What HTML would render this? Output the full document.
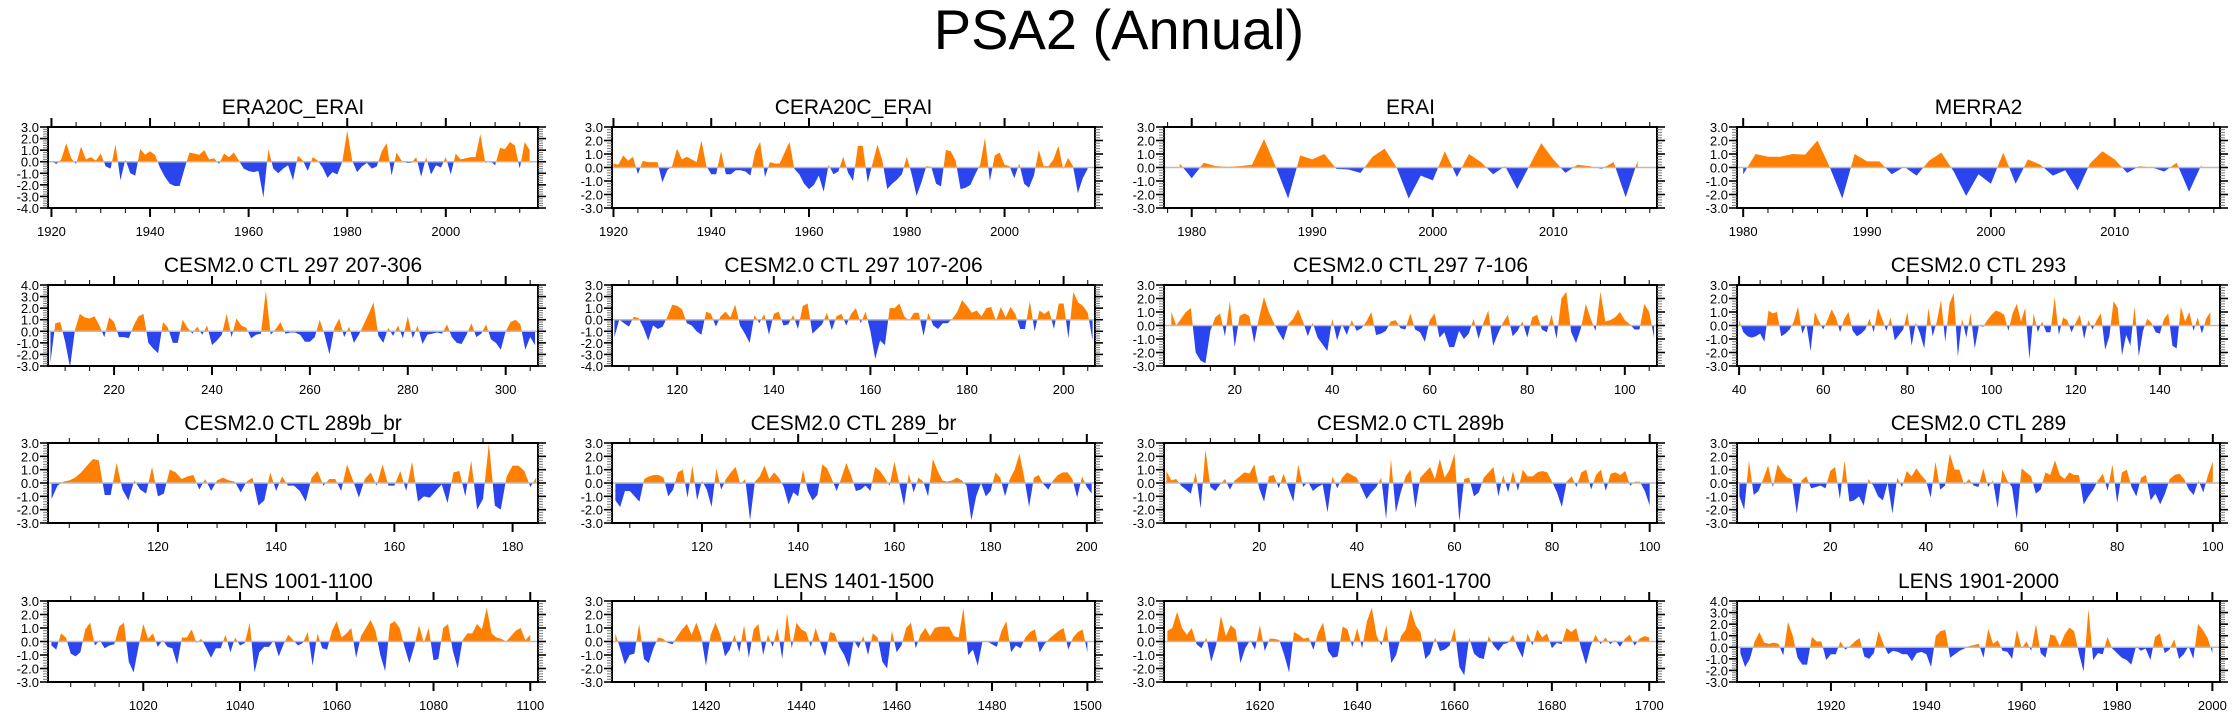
<!DOCTYPE html>
<html><head><meta charset="utf-8"><style>
html,body{margin:0;padding:0;background:#fff;}
svg text{font-family:"Liberation Sans",Helvetica,Arial,sans-serif;fill:#000;}
</style></head><body>
<svg id="fig" xmlns="http://www.w3.org/2000/svg" width="2238" height="719" viewBox="0 0 2238 719">
<rect x="0" y="0" width="2238" height="719" fill="#fff"/>
<text x="1119" y="49" font-size="56" text-anchor="middle">PSA2 (Annual)</text>
</svg>
<script>
// ---------- data ----------
const titles = ["ERA20C_ERAI","CERA20C_ERAI","ERAI","MERRA2",
"CESM2.0 CTL 297 207-306","CESM2.0 CTL 297 107-206","CESM2.0 CTL 297 7-106","CESM2.0 CTL 293",
"CESM2.0 CTL 289b_br","CESM2.0 CTL 289_br","CESM2.0 CTL 289b","CESM2.0 CTL 289",
"LENS 1001-1100","LENS 1401-1500","LENS 1601-1700","LENS 1901-2000"];
const p1Start = 1920;
const p1 = [0.05,-0.2,0.2,1.6,0.3,-0.2,1.3,0.2,0.4,0.1,0.7,-0.4,-0.6,1.5,-1.6,0.2,-1.0,-1.2,1.1,0.6,0.9,0.6,-0.5,-1.3,-1.9,-2.1,-2.1,-0.6,0.8,0.7,0.6,1.0,0.2,0.3,-0.2,0.7,0.4,0.8,0.1,-0.6,-0.8,-0.9,-0.8,-3.1,1.1,-0.6,-1.0,-0.6,-0.3,-1.6,0.5,0.1,-0.8,0.4,0.1,-0.5,-1.4,-0.9,-1.1,0.0,2.7,0.1,-0.9,-0.4,-0.1,-0.6,-0.4,0.9,1.6,-1.2,0.8,0.1,-0.1,-0.1,0.4,-1.3,0.4,-1.1,-0.3,-0.5,0.4,-1.1,0.7,0.2,0.3,0.4,0.4,2.4,-0.1,0.05,-0.3,1.2,1.1,1.7,1.4,-0.6,1.7,1.0];
const p2Start = 1920;
const p2 = [0.3,0.2,0.9,0.5,0.8,-0.5,0.5,0.4,0.4,0.4,-1.1,-0.2,0.1,1.4,0.6,0.8,0.6,0.4,2.0,0.1,-0.5,-0.5,1.2,-0.5,-0.5,-0.2,-0.2,-0.3,-0.6,1.2,1.9,-0.7,0.4,0.3,0.3,1.1,1.9,-0.1,-0.5,-1.2,-1.6,-1.3,-0.6,-1.8,0.2,-0.5,-0.3,0.8,-0.4,-1.0,1.6,1.6,-1.1,0.3,1.7,0.5,-1.6,-1.2,-0.9,-0.5,0.8,-0.5,-2.1,-1.1,0.1,0.05,-1.2,-1.4,1.3,1.2,0.5,-1.6,-1.5,-1.3,-0.5,0.2,2.2,-1.0,0.9,1.1,0.2,0.1,-0.8,0.3,-1.2,-1.5,-0.6,1.3,0.1,0.1,0.6,1.6,-0.1,0.7,0.1,-1.9,-0.8,-0.1];
const p3Start = 1979;
const p3 = [0.3,-0.8,0.35,0.1,0.05,0.1,0.2,2.1,0.0,-2.3,0.9,0.6,1.0,-0.1,-0.15,-0.4,0.8,1.4,0.0,-2.3,-0.6,-0.95,1.2,-0.7,1.0,0.4,-0.5,0.1,-1.6,0.1,1.8,0.6,-0.4,0.2,0.1,-0.1,0.4,-2.2,0.5];
const p4Start = 1980;
const p4 = [-0.5,1.0,0.8,0.8,1.0,0.95,2.0,0.0,-2.3,1.0,0.45,0.45,-0.5,0.05,-0.6,0.5,1.1,-0.3,-2.1,-0.5,-1.2,1.1,-1.2,0.6,0.2,-0.6,-0.2,-1.7,0.3,1.2,0.6,-0.4,0.1,0.0,-0.3,0.35,-1.8,0.2];
const p5Start = 207;
const p5 = [-2.7,0.7,0.8,-0.9,-3.1,0.1,1.5,1.2,1.1,1.3,0.5,-0.5,1.2,0.8,-0.5,-0.5,-0.6,0.5,1.3,1.5,-1.0,-1.5,-1.9,0.8,0.3,-1.0,-1.0,1.0,0.3,-0.2,0.4,-0.3,0.5,-1.2,-0.8,-0.3,1.5,-0.5,1.1,0.5,0.3,-0.6,-0.3,-0.2,3.5,-0.3,0.2,0.8,-0.2,-0.1,-0.1,-0.3,-0.9,-0.9,-0.5,1.0,-0.3,-2.0,0.3,1.1,-0.5,0.4,-1.0,-0.3,0.6,1.5,2.5,-0.4,-1.0,0.3,-0.4,0.5,-0.6,1.3,-0.6,0.5,-1.1,-0.3,-0.2,-0.1,-0.2,0.6,-0.5,-1.0,-1.1,-0.3,0.7,-0.5,-0.2,0.6,-0.7,-1.0,-1.6,0.0,0.8,1.0,0.6,-1.6,-0.5,-1.2];
const p6Start = 107;
const p6 = [-1.5,0.0,-0.3,-0.6,0.25,0.15,-0.7,-1.8,-0.5,-0.8,-0.6,0.3,1.3,1.2,0.9,-0.3,-0.5,-1.0,-1.3,0.7,0.5,-0.6,0.3,0.7,0.2,1.3,-0.5,-1.2,-2.0,0.4,-0.3,0.5,-1.3,0.5,0.7,-0.5,-0.4,0.4,-0.8,1.2,1.4,-1.2,-0.8,-0.4,0.6,-0.9,0.3,0.5,-0.5,0.5,1.0,-0.3,0.7,-1.0,-3.4,-1.8,-2.2,1.0,1.0,1.4,0.3,-0.1,0.6,0.6,-1.4,0.6,-0.5,-0.8,-0.3,-0.3,0.1,0.7,1.7,1.2,0.6,0.8,0.3,1.0,1.1,-0.1,1.1,0.2,1.1,0.5,-0.8,-0.8,1.6,-1.0,0.8,0.5,0.8,-0.8,1.4,1.4,-1.6,2.4,1.5,1.2,0.6,-1.8];
const p7Start = 7;
const p7 = [1.0,0.0,0.5,1.0,1.3,-2.0,-2.6,-2.8,-0.4,0.6,0.9,-0.8,1.8,-1.6,0.7,0.9,0.7,-1.3,0.6,2.1,1.0,0.2,-0.5,-1.1,0.1,0.5,1.2,0.3,-0.8,0.2,-0.9,-1.4,-1.9,0.5,-1.1,0.1,-0.7,0.4,-0.4,-0.2,0.3,1.0,-0.7,-0.6,-0.4,0.3,0.4,-0.2,-0.3,0.9,-0.3,-0.5,-1.2,0.4,0.9,-0.9,-0.5,-1.6,-1.6,-0.4,-1.0,-0.6,0.5,-1.0,0.2,1.1,-1.5,-0.6,0.2,0.8,-0.8,-0.4,0.3,-0.9,0.6,0.8,-0.3,-0.5,0.8,-1.0,2.0,2.5,-0.5,-1.3,-0.2,1.6,0.5,-0.4,2.5,0.3,0.4,0.6,1.0,0.4,0.1,-0.3,-0.3,1.6,1.0,-0.9];
const p8Start = 40;
const p8 = [0.4,-0.5,-0.8,-0.9,-0.8,-0.6,-1.2,1.1,0.9,1.0,-0.8,-0.6,-0.3,0.3,1.4,-0.6,0.1,-1.9,1.0,0.3,-0.3,0.4,1.2,0.6,-0.5,0.5,1.0,-0.4,-0.8,-0.6,-0.3,0.5,-0.5,1.3,0.5,-0.4,0.6,-1.1,-0.7,-0.3,1.0,-1.5,0.2,-0.6,-1.7,1.3,-0.8,0.3,1.9,-1.2,1.6,2.4,-2.3,0.5,-0.9,0.9,-1.7,0.0,-0.1,0.4,0.8,1.1,1.0,0.8,-0.4,0.9,1.6,0.3,1.3,-2.5,0.9,-0.5,0.3,-0.5,-0.5,2.1,-0.7,0.6,0.4,-0.5,0.2,0.8,-1.0,0.4,-0.3,0.4,0.9,-1.8,-0.8,1.8,1.3,-2.2,-0.7,-1.5,1.4,-2.3,-0.4,0.5,0.2,-0.5,-0.6,0.5,0.9,-1.5,-1.7,1.4,0.3,1.0,-0.4,0.6,-0.6,0.5,1.0];
const p9Start = 102;
const p9 = [-1.2,-0.2,0.1,0.2,0.4,0.8,1.3,1.8,1.7,-0.9,-0.9,1.5,-0.5,-1.3,0.2,-0.5,-0.8,1.2,-1.0,-0.8,1.0,0.8,0.3,0.5,0.6,-0.5,0.3,-0.6,0.2,0.4,0.2,0.1,-0.7,0.1,0.4,-1.7,-1.3,0.8,-0.6,0.5,-0.2,-0.2,-0.6,-1.4,0.4,0.9,-0.2,0.3,0.3,-0.6,1.4,0.2,-1.1,0.3,0.8,-0.2,1.4,-0.2,-0.2,0.9,-0.6,1.6,-1.4,-1.0,-1.1,-0.6,-0.1,-1.5,0.8,0.9,-1.0,1.7,-2.0,-1.2,3.0,-1.7,-2.0,0.5,1.3,1.3,0.9,-0.3,0.4];
const p10Start = 102;
const p10 = [-1.3,-1.8,-0.6,-0.6,-1.0,-1.4,0.3,0.5,0.6,0.6,0.4,-1.0,-0.5,0.8,1.0,-1.1,1.3,-1.3,0.2,-0.5,-1.8,1.1,-0.5,0.3,0.8,1.2,-0.1,0.3,-2.8,0.1,0.5,1.3,0.3,0.8,0.4,-0.3,-1.6,-0.7,-1.0,1.0,-0.6,-1.3,-0.9,1.4,1.1,0.3,-0.6,0.4,1.5,0.6,-0.6,-0.5,-0.2,-0.6,1.2,0.9,0.4,-0.2,1.6,0.0,-1.7,0.7,-0.7,0.4,0.1,-1.0,1.8,0.9,0.2,0.1,0.2,0.4,0.2,-0.2,-2.8,-1.0,0.0,-1.0,-0.6,0.8,0.4,-1.0,0.3,1.0,2.2,0.4,-1.8,0.4,0.6,-0.1,-0.5,0.2,0.6,0.8,0.8,0.3,-1.1,0.5,-0.3,-0.8];
const p11Start = 1;
const p11 = [0.9,0.2,0.3,-0.2,-0.5,-0.8,0.8,-1.9,2.5,-0.3,-0.6,-0.1,0.3,-0.5,0.2,0.5,0.8,0.7,1.4,-0.4,-1.4,0.5,0.6,-0.4,0.7,-0.4,-1.4,1.4,-0.3,0.1,-0.6,-0.3,-0.1,-2.2,0.5,-0.4,0.4,0.8,0.6,0.4,-0.4,-1.2,-0.7,-0.3,0.4,-2.7,1.8,-2.2,-0.7,0.5,1.0,-1.9,0.4,0.8,1.2,0.3,1.8,0.4,1.0,2.2,-2.9,0.3,0.4,-1.0,-0.7,0.4,0.8,1.2,-1.0,0.6,-0.7,0.9,-0.6,1.0,0.5,0.5,0.8,0.9,0.8,0.1,-0.7,-1.8,0.1,0.5,-0.3,0.8,1.0,-0.5,0.6,1.0,-0.6,0.7,0.8,0.6,0.9,-0.2,0.1,0.1,-0.6,-1.7];
const p12Start = 1;
const p12 = [-1.0,-2.0,1.7,-0.9,-0.6,0.3,1.3,-0.3,1.4,0.8,0.4,0.3,-2.3,0.2,0.5,-0.4,-0.3,-0.2,-0.4,0.9,1.2,-1.2,1.7,-1.4,-1.3,-1.0,-1.7,0.3,-0.2,-1.0,-1.3,0.0,-2.3,0.4,-0.3,0.9,0.5,1.1,0.6,0.2,-1.1,1.6,-0.5,-0.2,2.2,1.0,1.0,-0.1,0.3,-0.2,-0.3,1.1,-0.3,0.2,-1.9,1.0,0.2,-0.3,-2.7,1.1,0.8,0.5,-0.8,-0.5,0.8,0.6,1.7,0.6,0.3,0.8,0.6,0.6,-1.6,-1.0,-0.5,0.2,0.7,-0.6,1.4,-1.5,0.8,1.0,-0.3,-1.0,0.4,0.6,-1.3,-0.8,-1.6,-0.8,0.3,0.6,0.7,0.3,-0.5,-0.9,0.2,-0.7,0.6,1.6];
const p13Start = 1001;
const p13 = [-0.3,-0.6,0.6,0.3,-0.9,-1.1,-0.8,0.9,1.4,-0.3,0.1,-0.5,-0.3,-0.2,1.1,1.4,-1.5,-2.3,-0.4,1.3,0.2,0.6,-0.4,0.1,-0.4,-0.5,-1.7,0.3,0.3,0.9,-0.1,0.2,-0.5,-1.2,-0.5,-0.5,0.5,-0.8,0.3,-0.3,-0.1,1.4,-2.3,-0.8,-0.4,-0.4,0.1,-1.1,-0.2,0.5,0.1,-0.3,-0.1,0.7,-1.8,0.6,-0.5,-0.6,0.8,1.5,0.3,0.6,1.0,-1.2,0.4,1.0,1.6,0.8,-1.0,-2.2,1.3,1.5,1.0,-0.4,-1.6,-0.4,1.2,-0.1,1.0,-1.4,-1.3,1.0,1.3,-0.7,-2.0,0.1,0.6,0.6,1.3,0.9,2.5,0.6,0.3,0.2,0.0,0.4,0.8,1.0,0.1,0.5];
const p14Start = 1401;
const p14 = [0.6,-0.5,-1.7,-1.0,-0.9,1.3,-1.3,-1.6,-0.5,0.3,0.2,-0.1,-0.2,0.4,0.9,1.3,0.5,1.4,0.4,-1.8,0.5,1.4,0.5,-1.1,-0.6,0.5,-0.8,1.2,-1.2,0.9,1.3,-1.0,0.5,-0.4,1.0,-1.3,2.1,-0.5,1.4,0.9,0.7,-0.4,1.0,-0.1,-1.1,0.7,0.6,-0.4,-1.0,-1.9,0.1,-0.5,0.4,-1.0,0.6,0.3,-1.5,-2.0,0.8,-0.8,-0.3,1.0,1.4,-0.5,0.5,1.0,0.4,1.0,1.1,1.1,1.1,0.4,0.3,2.5,-1.0,-0.6,-1.8,0.0,0.0,-0.2,-0.4,0.8,1.5,-0.8,-0.3,-0.5,0.3,0.7,0.9,-0.8,-0.2,0.2,0.5,0.8,1.0,-0.6,0.3,0.7,0.9,-0.8];
const p15Start = 1601;
const p15 = [0.8,1.0,2.2,1.0,0.5,1.0,-0.2,-0.5,0.3,-1.5,-0.3,1.9,0.4,1.2,0.9,-1.6,-0.5,0.1,-0.6,1.2,-0.7,0.2,0.2,0.1,-1.0,-2.3,0.7,0.5,0.2,0.3,-0.6,0.7,1.4,-0.7,-1.2,-1.1,1.1,0.9,-0.4,1.0,-0.5,1.5,2.5,0.4,-0.3,1.2,-1.6,-1.0,0.4,0.9,2.4,1.2,0.7,-1.3,-0.9,0.3,-0.7,-0.6,-0.3,1.0,-1.9,-2.5,0.3,-0.9,-1.2,-1.3,0.4,-0.3,-0.7,-0.2,-0.1,0.5,-0.5,-1.2,0.6,-0.3,0.9,0.3,0.6,-0.5,-0.1,-0.2,1.0,0.7,1.0,-0.5,-1.7,-0.3,0.5,-0.2,0.3,-0.2,0.1,-0.4,0.2,0.5,-0.3,0.2,0.4,0.3];
const p16Start = 1901;
const p16 = [-0.5,-1.7,-1.0,0.5,1.3,0.4,0.3,0.4,0.3,-0.7,2.2,1.0,-0.9,-1.5,-1.5,0.9,0.5,0.5,-1.1,-0.6,-0.6,0.5,-0.2,0.1,0.5,0.8,-0.8,-1.0,-0.5,1.4,0.3,-0.6,-0.3,-0.4,-0.6,-0.6,-1.2,-0.5,-0.4,-0.6,-1.7,1.0,1.4,1.5,-0.9,-0.6,-0.3,-0.1,0.1,0.2,0.3,-0.9,1.6,0.3,0.6,-0.3,-0.4,-1.0,1.5,-0.1,0.5,-0.3,2.0,-0.5,-0.9,1.1,1.0,0.1,1.1,1.7,1.4,-0.5,-2.1,3.3,-1.1,-0.5,-0.6,0.9,-0.1,-0.5,-0.9,-1.1,-1.5,0.1,-0.3,-0.1,-1.1,0.9,1.2,-0.5,-0.2,0.7,-1.0,-0.6,0.1,-1.0,2.0,1.5,0.8,-0.5];
const series = [p1,p2,p3,p4,p5,p6,p7,p8,p9,p10,p11,p12,p13,p14,p15,p16];
const starts = [p1Start,p2Start,p3Start,p4Start,p5Start,p6Start,p7Start,p8Start,p9Start,p10Start,p11Start,p12Start,p13Start,p14Start,p15Start,p16Start];
const xRanges = [[1919.3,2018.7],[1919.7,2018.5],[1977.7,2018.6],[1979.5,2018.5],
[206.5,306.6],[106.5,206.5],[5.5,106.6],[39.5,154.3],
[101.4,184.3],[101.3,201.7],[0.5,101.5],[0.5,101.5],
[1000.3,1101.6],[1400.3,1501.6],[1600.3,1701.6],[1900.3,2001.6]];
const yRanges = [[-4,3],[-3,3],[-3,3],[-3,3],[-3,4],[-4,3],[-3,3],[-3,3],
[-3,3],[-3,3],[-3,3],[-3,3],[-3,3],[-3,3],[-3,3],[-3,4]];
const xMajor = [20,20,10,10,20,20,20,20,20,20,20,20,20,20,20,20];
const xMinor = [5,5,2,2,5,5,5,5,5,5,5,5,5,5,5,5];

// ---------- layout ----------
const colX = [[48,538],[612,1095],[1164,1657],[1737,2220]];
const rowY = [[127,208],[285,366],[443,523],[601,682]];
const NS = "http://www.w3.org/2000/svg";
const svg = document.getElementById("fig");
function mk(tag, attrs, parent){const e=document.createElementNS(NS,tag);for(const k in attrs)e.setAttribute(k,attrs[k]);(parent||svg).appendChild(e);return e;}

for(let i=0;i<16;i++){
  const c=i%4, r=Math.floor(i/4);
  const L=colX[c][0], R=colX[c][1], T=rowY[r][0], B=rowY[r][1];
  const [x0,x1]=xRanges[i], [y0,y1]=yRanges[i];
  const sx=v=>L+(v-x0)/(x1-x0)*(R-L);
  const sy=v=>B-(v-y0)/(y1-y0)*(B-T);
  const g=mk("g",{});
  
  
  const t=mk("text",{x:(L+R)/2,y:T-13,"font-size":21,"text-anchor":"middle"},g);
  t.textContent=titles[i];
  
  
  // area
  const vals=series[i], st=starts[i];
  let pts=[[sx(st),sy(0)]];
  vals.forEach((v,k)=>pts.push([sx(st+k),sy(v)]));
  pts.push([sx(st+vals.length-1),sy(0)]);
  const d="M"+pts.map(p=>p[0].toFixed(2)+","+p[1].toFixed(2)).join("L")+"Z";
  const cp=mk("clipPath",{id:"cp"+i},g); mk("rect",{x:L,y:T,width:R-L,height:sy(0)-T},cp);
  const cn=mk("clipPath",{id:"cn"+i},g); mk("rect",{x:L,y:sy(0),width:R-L,height:B-sy(0)},cn);
  const pos=mk("path",{d:d,fill:"#FF8000","clip-path":"url(#cp"+i+")"},g);
  
  
  const neg=mk("path",{d:d,fill:"#2A45EE","clip-path":"url(#cn"+i+")"},g);
  
  
  const zl=mk("line",{x1:L,x2:R,y1:sy(0),y2:sy(0),stroke:"#bbbbbb","stroke-width":1.5},g);
  
  
  // frame
  const fr=mk("rect",{x:L,y:T,width:R-L,height:B-T,fill:"none",stroke:"#000","stroke-width":2},g);
  
  
  // x ticks
  const mn=Math.ceil(x0/xMinor[i])*xMinor[i];
  for(let v=mn;v<=x1;v+=xMinor[i]){
    const X=sx(v), maj=(v%xMajor[i]===0), len=maj?9:5;
    mk("line",{x1:X,x2:X,y1:B,y2:B+len,stroke:"#000","stroke-width":maj?2:1},g);
    mk("line",{x1:X,x2:X,y1:T,y2:T-len,stroke:"#000","stroke-width":maj?2:1},g);
    if(maj){
      const lb=mk("text",{x:X,y:B+28,"font-size":13,"text-anchor":"middle"},g);
      lb.textContent=String(v);
      
      
    }
  }
  // y ticks
  for(let k=Math.round(y0*5);k<=Math.round(y1*5);k++){
    const v=k/5, Y=sy(v), maj=(k%5===0), len=maj?8:5;
    mk("line",{x1:L-len,x2:L,y1:Y,y2:Y,stroke:maj?"#000":"#777","stroke-width":maj?1.6:1},g);
    mk("line",{x1:R,x2:R+len,y1:Y,y2:Y,stroke:maj?"#000":"#777","stroke-width":maj?1.6:1},g);
    if(maj){
      const lb=mk("text",{x:L-9,y:Y+5,"font-size":13,"text-anchor":"end"},g);
      lb.textContent=v.toFixed(1);
      
      
    }
  }
}
</script>
</body></html>
